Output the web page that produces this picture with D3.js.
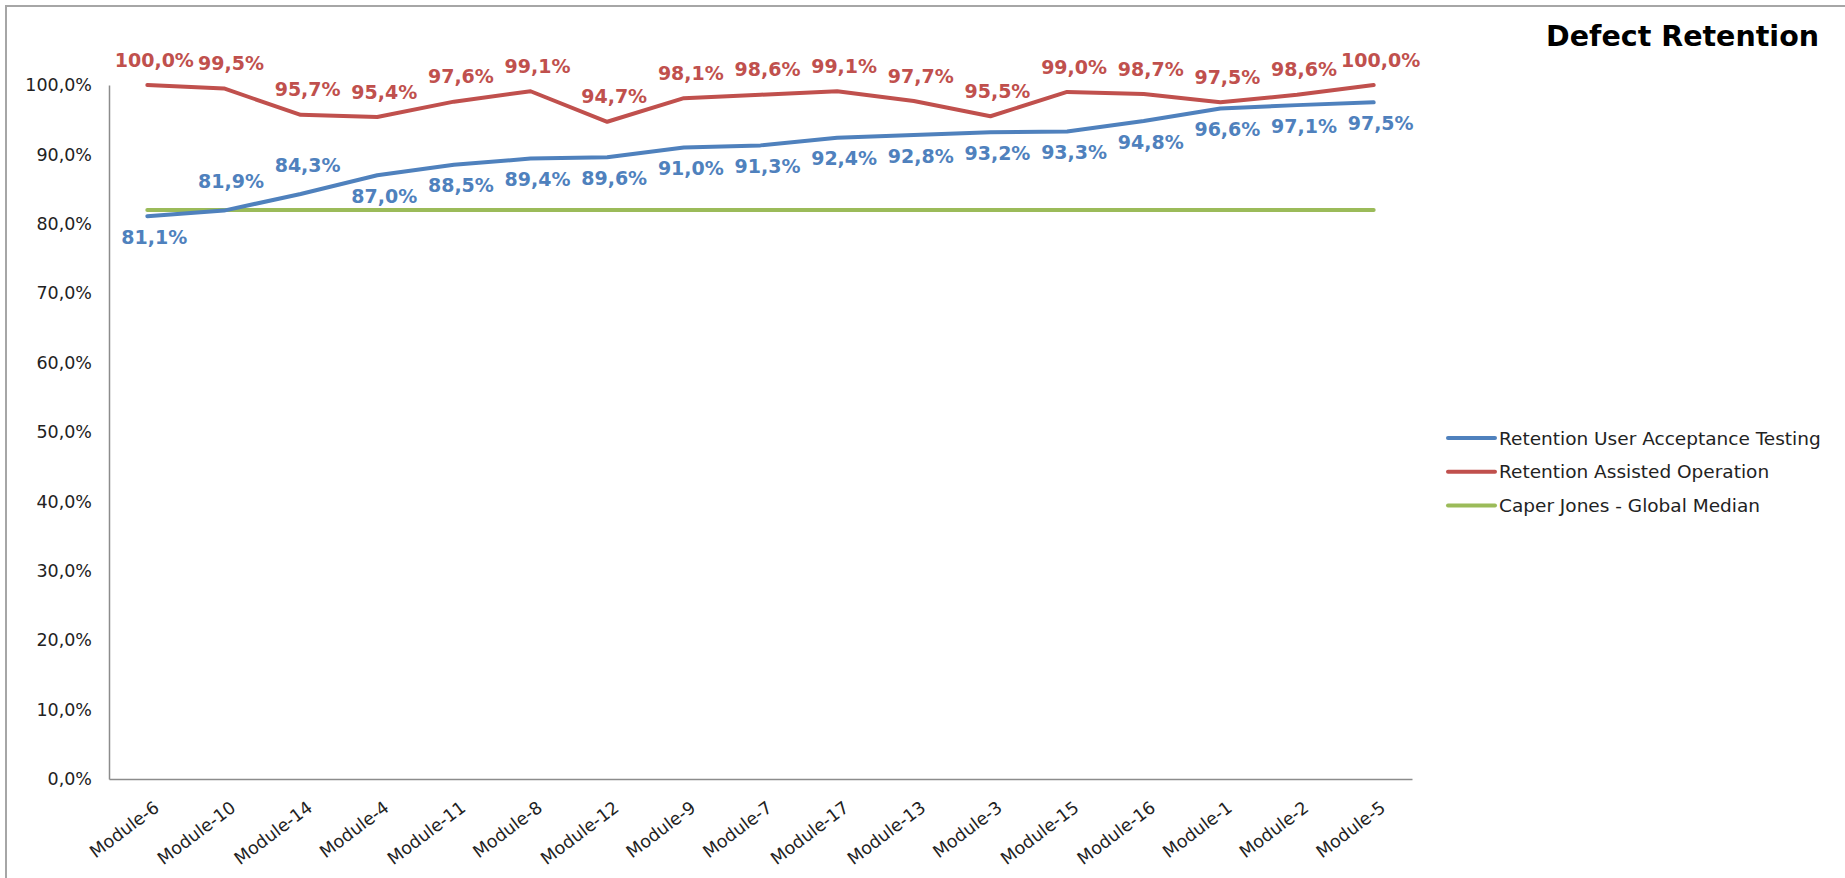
<!DOCTYPE html>
<html>
<head>
<meta charset="utf-8">
<title>Defect Retention</title>
<script src="https://cdn.jsdelivr.net/npm/d3@7"></script>
<style>
  html, body { margin: 0; padding: 0; background: #ffffff; }
  svg { display: block; }
  text { font-family: "DejaVu Sans", "Liberation Sans", sans-serif; }
</style>
</head>
<body>
<svg id="chart" width="1845" height="878"></svg>
<script>
// ---- data -------------------------------------------------------------
const categories = [
  "Module-6", "Module-10", "Module-14", "Module-4", "Module-11", "Module-8",
  "Module-12", "Module-9", "Module-7", "Module-17", "Module-13", "Module-3",
  "Module-15", "Module-16", "Module-1", "Module-2", "Module-5"
];
// retention rates in percent
const uatRetention = [81.1, 81.9, 84.3, 87.0, 88.5, 89.4, 89.6, 91.0, 91.3, 92.4, 92.8, 93.2, 93.3, 94.8, 96.6, 97.1, 97.5];
const assistedOpRetention = [100.0, 99.5, 95.7, 95.4, 97.6, 99.1, 94.7, 98.1, 98.6, 99.1, 97.7, 95.5, 99.0, 98.7, 97.5, 98.6, 100.0];
const globalMedian = [82, 82, 82, 82, 82, 82, 82, 82, 82, 82, 82, 82, 82, 82, 82, 82, 82];
const yTicks = [0, 10, 20, 30, 40, 50, 60, 70, 80, 90, 100];
const seriesNames = [
  "Retention User Acceptance Testing",
  "Retention Assisted Operation",
  "Caper Jones - Global Median"
];
const chartTitle = "Defect Retention";

// ---- setup ------------------------------------------------------------
const colors = { uat: "#4F81BD", ao: "#C0504D", median: "#9BBB59" };
const locale = d3.formatLocale({ decimal: ",", thousands: ".", grouping: [3], currency: ["", " €"] });
const pct = locale.format(".1%");

const svg = d3.select("#chart");
const plot = { left: 109, right: 1412, top: 85, bottom: 779 };

const x = d3.scalePoint().domain(categories).range([plot.left, plot.right]).padding(0.5);
const y = d3.scaleLinear().domain([0, 100]).range([plot.bottom, plot.top]);

// outer chart frame
svg.append("rect")
  .attr("x", 6).attr("y", 6)
  .attr("width", 1900).attr("height", 940)
  .attr("fill", "none")
  .attr("stroke", "#a6a6a6")
  .attr("stroke-width", 2);

// title
svg.append("text")
  .attr("x", 1819).attr("y", 46)
  .attr("text-anchor", "end")
  .attr("font-size", 28.5)
  .attr("font-weight", "bold")
  .attr("fill", "#000")
  .text(chartTitle);

// ---- axes -------------------------------------------------------------
const yAxis = svg.append("g")
  .attr("transform", `translate(${plot.left},0)`)
  .call(d3.axisLeft(y).tickValues(yTicks).tickSize(0).tickSizeOuter(0).tickPadding(17)
    .tickFormat(v => pct(v / 100)));
yAxis.select(".domain").attr("stroke", "#8c8c8c").attr("stroke-width", 1.5);
yAxis.selectAll("text").attr("font-size", 17.5).attr("fill", "#222").attr("font-family", null);

const xAxis = svg.append("g")
  .attr("transform", `translate(0,${plot.bottom})`)
  .call(d3.axisBottom(x).tickSize(0).tickSizeOuter(0));
xAxis.select(".domain").attr("stroke", "#8c8c8c").attr("stroke-width", 1.5);
xAxis.selectAll("text")
  .attr("font-size", 17.5)
  .attr("font-family", null)
  .attr("fill", "#222")
  .attr("x", null).attr("y", null)
  .attr("dy", "0.71em")
  .attr("transform", "translate(5,21) rotate(-37)")
  .attr("text-anchor", "end");

// ---- series lines -----------------------------------------------------
const line = d3.line()
  .x((d, i) => x(categories[i]))
  .y(d => y(d));

const series = [
  { key: "median", values: globalMedian, color: colors.median },
  { key: "uat", values: uatRetention, color: colors.uat },
  { key: "ao", values: assistedOpRetention, color: colors.ao }
];

svg.append("g").selectAll("path")
  .data(series)
  .join("path")
  .attr("d", s => line(s.values))
  .attr("fill", "none")
  .attr("stroke", s => s.color)
  .attr("stroke-width", 4)
  .attr("stroke-linejoin", "round")
  .attr("stroke-linecap", "round");

// ---- data labels ------------------------------------------------------
// UAT labels sit under the line, except where the median line crowds them
const uatLabelsAbove = new Set(["Module-10", "Module-14"]);

const labels = svg.append("g")
  .attr("font-size", 19)
  .attr("font-weight", "bold")
  .attr("text-anchor", "middle");

labels.selectAll("text.ao")
  .data(assistedOpRetention)
  .join("text")
  .attr("class", "ao")
  .attr("x", (d, i) => x(categories[i]) + 7)
  .attr("y", d => y(d) - 25)
  .attr("dy", "0.35em")
  .attr("fill", colors.ao)
  .text(d => pct(d / 100));

labels.selectAll("text.uat")
  .data(uatRetention)
  .join("text")
  .attr("class", "uat")
  .attr("x", (d, i) => x(categories[i]) + 7)
  .attr("y", (d, i) => uatLabelsAbove.has(categories[i]) ? y(d) - 29 : y(d) + 21)
  .attr("dy", "0.35em")
  .attr("fill", colors.uat)
  .text(d => pct(d / 100));

// ---- legend -----------------------------------------------------------
const legend = svg.append("g").attr("transform", "translate(1448,438)");
const legendItems = [
  { name: seriesNames[0], color: colors.uat },
  { name: seriesNames[1], color: colors.ao },
  { name: seriesNames[2], color: colors.median }
];
const li = legend.selectAll("g")
  .data(legendItems)
  .join("g")
  .attr("transform", (d, i) => `translate(0,${i * 33.7})`);
li.append("line")
  .attr("x1", 0).attr("x2", 47)
  .attr("stroke", d => d.color)
  .attr("stroke-width", 4)
  .attr("stroke-linecap", "round");
li.append("text")
  .attr("x", 51)
  .attr("dy", "0.36em")
  .attr("font-size", 18.5)
  .attr("fill", "#222")
  .text(d => d.name);
</script>
</body>
</html>
